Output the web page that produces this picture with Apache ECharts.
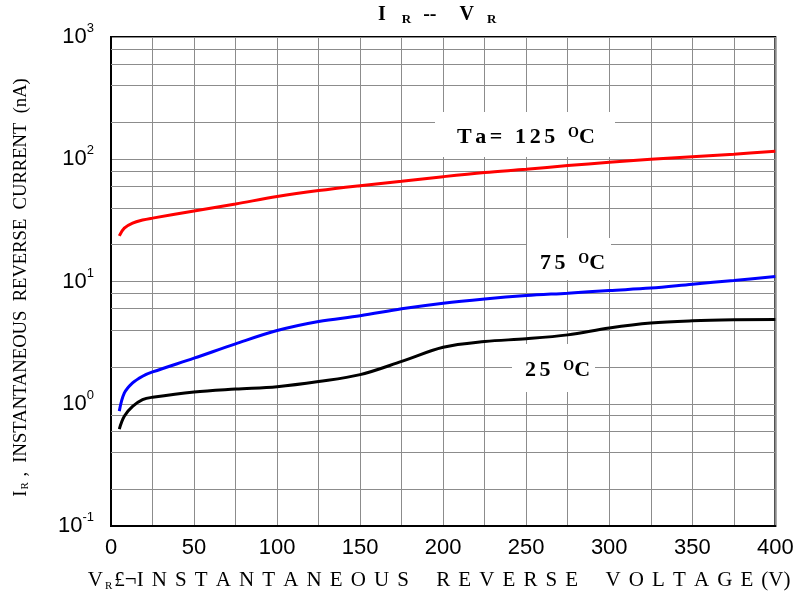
<!DOCTYPE html>
<html><head><meta charset="utf-8">
<script src="https://cdn.jsdelivr.net/npm/echarts@6/dist/echarts.min.js"></script>
<style>html,body{margin:0;padding:0;background:#fff}#c{width:801px;height:598px}</style>
</head><body><div id="c"></div>
<script>
// ---- data ----
const voltage = [5, 8, 13, 19, 25, 50, 75, 100, 125, 150, 175, 200, 225, 250, 275, 300, 325, 350, 375, 400];
const current125 = [23.6, 27.3, 30.0, 31.8, 33.0, 37.8, 43.1, 49.5, 55.4, 60.8, 66.1, 72.0, 77.8, 82.8, 88.7, 94.5, 100, 105, 110, 116];
const current75  = [0.87, 1.22, 1.48, 1.68, 1.82, 2.36, 3.09, 3.97, 4.71, 5.24, 5.98, 6.65, 7.2, 7.67, 8.03, 8.44, 8.83, 9.51, 10.2, 10.97];
const current25  = [0.62, 0.79, 0.95, 1.08, 1.13, 1.25, 1.32, 1.38, 1.52, 1.73, 2.22, 2.9, 3.23, 3.4, 3.66, 4.16, 4.57, 4.77, 4.86, 4.88];
const seriesNames = ['Ta = 125 °C', '75 °C', '25 °C'];
const seriesColors = ['#ff0000', '#0000ff', '#000000'];
const minorGridValues = [0.2, 0.4, 0.6, 0.8, 2, 4, 6, 8, 20, 40, 60, 80, 200, 400, 600, 800];
const xMin = 0, xMax = 400, xStep = 50;
const yMin = 0.1, yMax = 1000;

const SERIF = '"Liberation Serif", "Times New Roman", serif';
const SANS = '"Liberation Sans", Arial, sans-serif';

function pairs(xs, ys) { return xs.map((x, i) => [x, ys[i]]); }
function spaced(str, st) {
  return str.split('').map(ch => '{' + st + '|' + ch + '}').join('');
}

const xName = '{v|V}{r|R}{v|£¬}' + spaced('INSTANTANEOUS', 'c') + '{w| }' + spaced('REVERSE', 'c') + '{w| }' + spaced('VOLTAGE', 'c') + '{e|(V)}';
const yName = '{v|I}{r|R}{e| ,  INSTANTANEOUS  REVERSE  CURRENT  (nA)}';

const chart = echarts.init(document.getElementById('c'), null, { renderer: 'canvas' });

const lineSeries = [current125, current75, current25].map((arr, i) => ({
  name: seriesNames[i],
  type: 'line',
  data: pairs(voltage, arr),
  smooth: 0.35,
  showSymbol: false,
  symbol: 'none',
  lineStyle: { color: seriesColors[i], width: 3 },
  z: 3
}));

lineSeries.push({
  type: 'line',
  data: [],
  silent: true,
  markLine: {
    silent: true,
    symbol: ['none', 'none'],
    animation: false,
    label: { show: false },
    z: 1,
    lineStyle: { color: '#8c8c8c', width: 1, type: 'solid' },
    emphasis: { disabled: true },
    data: minorGridValues.map(v => ({ yAxis: v }))
  }
});

const richAnno = {
  a: { fontFamily: SERIF, fontWeight: 'bold', fontSize: 22, color: '#000', padding: [0, 3.6, 0, 0] },
  g: { fontFamily: SERIF, fontWeight: 'bold', fontSize: 22, padding: [0, 3.6, 0, 0] },
  o: { fontFamily: SERIF, fontWeight: 'bold', fontSize: 14, color: '#000', verticalAlign: 'top', lineHeight: 14 }
};

const option = {
  backgroundColor: '#fff',
  animation: false,
  grid: { left: 110, right: 24, top: 37, bottom: 72, show: true, borderColor: '#000', borderWidth: 2, backgroundColor: 'transparent' },
  xAxis: {
    type: 'value', min: xMin, max: xMax, interval: xStep,
    name: xName, nameLocation: 'middle', nameGap: 42,
    nameTextStyle: {
      rich: {
        v: { fontFamily: SERIF, fontSize: 21, color: '#000', lineHeight: 24 },
        c: { fontFamily: SERIF, fontSize: 21, color: '#000', padding: [0, 8.1, 0, 0], lineHeight: 24 },
        e: { fontFamily: SERIF, fontSize: 21, color: '#000', padding: [0, 8, 0, 0], lineHeight: 24 },
        w: { fontFamily: SERIF, fontSize: 21, padding: [0, 14, 0, 0], lineHeight: 24 },
        r: { fontFamily: SERIF, fontSize: 11, color: '#000', verticalAlign: 'bottom', lineHeight: 11, padding: [13, 2, 0, 2] }
      }
    },
    axisLine: { show: true, lineStyle: { color: '#000', width: 2 } },
    axisTick: { show: false },
    axisLabel: { fontFamily: SANS, fontSize: 22, color: '#000', margin: 11, showMinLabel: true, showMaxLabel: true },
    splitLine: { show: true, lineStyle: { color: '#8c8c8c', width: 1 } },
    minorTick: { show: false, splitNumber: 2 },
    minorSplitLine: { show: true, lineStyle: { color: '#8c8c8c', width: 1 } }
  },
  yAxis: {
    type: 'log', logBase: 10, min: yMin, max: yMax,
    name: yName, nameLocation: 'middle', nameGap: 80, nameRotate: 90,
    nameTextStyle: {
      rich: {
        v: { fontFamily: SERIF, fontSize: 18.6, color: '#000', lineHeight: 20 },
        e: { fontFamily: SERIF, fontSize: 18.6, color: '#000', lineHeight: 20, padding: [0, 12, 0, 0] },
        r: { fontFamily: SERIF, fontSize: 11, color: '#000', verticalAlign: 'bottom', lineHeight: 11, padding: [12, 1, 0, 1] }
      }
    },
    axisLine: { show: true, lineStyle: { color: '#000', width: 2 } },
    axisTick: { show: false },
    axisLabel: {
      margin: 17,
      formatter: v => '{b|10}{s|' + Math.round(Math.log10(v)) + '}',
      rich: {
        b: { fontFamily: SANS, fontSize: 22, color: '#000', lineHeight: 30 },
        s: { fontFamily: SANS, fontSize: 13, color: '#000', verticalAlign: 'top', lineHeight: 13 }
      }
    },
    splitLine: { show: true, lineStyle: { color: '#8c8c8c', width: 1 } }
  },
  graphic: [
    { type: 'text', x: 378, y: 4, z: 10, style: {
        text: '{m|I}{s1|R}{d|--}{k|V}{s|R}',
        rich: {
          m: { fontFamily: SERIF, fontWeight: 'bold', fontSize: 20, color: '#000', padding: [0, 16, 0, 0], lineHeight: 22 },
          d: { fontFamily: SERIF, fontWeight: 'bold', fontSize: 20, color: '#000', padding: [0, 23, 0, 0], lineHeight: 22 },
          k: { fontFamily: SERIF, fontWeight: 'bold', fontSize: 20, color: '#000', padding: [0, 13, 0, 0], lineHeight: 22 },
          s1: { fontFamily: SERIF, fontWeight: 'bold', fontSize: 13, color: '#000', verticalAlign: 'bottom', lineHeight: 13, padding: [14, 12, 0, 0] },
          s: { fontFamily: SERIF, fontWeight: 'bold', fontSize: 13, color: '#000', verticalAlign: 'bottom', lineHeight: 13, padding: [14, 0, 0, 0] }
        }
    } },
    { type: 'rect', z: 10, shape: { x: 435, y: 112, width: 180, height: 45 }, style: { fill: '#fff' } },
    { type: 'rect', z: 10, shape: { x: 527, y: 238, width: 84, height: 42 }, style: { fill: '#fff' } },
    { type: 'rect', z: 10, shape: { x: 512, y: 344, width: 83, height: 48 }, style: { fill: '#fff' } },
    { type: 'text', z: 11, x: 457, y: 137, style: { text: '{a|T}{a|a}{a|=}{g| }{a|1}{a|2}{a|5}{g| }{o|O}{a|C}', rich: richAnno, verticalAlign: 'middle', align: 'left' } },
    { type: 'text', z: 11, x: 540, y: 263, style: { text: '{a|7}{a|5}{g| }{o|O}{a|C}', rich: richAnno, verticalAlign: 'middle', align: 'left' } },
    { type: 'text', z: 11, x: 525, y: 370, style: { text: '{a|2}{a|5}{g| }{o|O}{a|C}', rich: richAnno, verticalAlign: 'middle', align: 'left' } }
  ],
  series: lineSeries
};
chart.setOption(option);
</script></body></html>
